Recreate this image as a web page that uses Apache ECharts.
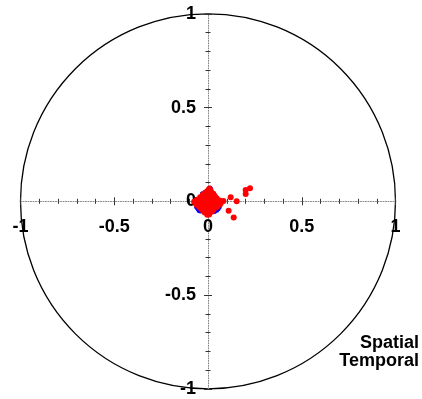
<!DOCTYPE html>
<html>
<head>
<meta charset="utf-8">
<script src="https://cdn.jsdelivr.net/npm/echarts@6/dist/echarts.min.js"></script>
<style>
  html, body { margin: 0; padding: 0; background: #fff; }
  #chart { width: 422px; height: 399px; }
</style>
</head>
<body>
<div id="chart"></div>
<script>
// Axis range and tick labels
const axisMin = -1;
const axisMax = 1;
const majorStep = 0.5;
const tickLabels = ['-1', '-0.5', '0', '0.5', '1'];

// Legend entries (drawn as plain text)
const legendNames = ['Spatial', 'Temporal'];

// Spatial points [x, y]
const spatialPoints = [
  [-0.052, -0.042], [-0.046, -0.050], [-0.060, -0.032], [-0.064, -0.014],
  [0.060, -0.030], [0.054, -0.040], [0.034, -0.054], [0.012, 0.070],
  [0.000, 0.000], [0.020, 0.020], [-0.020, -0.020], [-0.038, -0.052],
  [0.020, -0.020], [-0.020, 0.020], [0.046, -0.048], [-0.030, 0.040]
];

// Temporal points [x, y]
const temporalPoints = [
  [0.008, 0.068], [0.002, 0.060], [0.014, 0.058], [-0.004, 0.052],
  [-0.014, 0.047], [0.004, 0.046], [0.020, 0.044], [0.028, 0.040],
  [-0.028, 0.035], [-0.012, 0.033], [0.006, 0.035], [0.022, 0.031], [0.036, 0.028],
  [-0.042, 0.021], [-0.026, 0.019], [-0.010, 0.021], [0.010, 0.018], [0.028, 0.020], [0.046, 0.016],
  [-0.060, 0.008], [-0.044, 0.006], [-0.024, 0.008], [-0.006, 0.004], [0.012, 0.007],
  [0.030, 0.005], [0.048, 0.008], [0.062, 0.004],
  [-0.074, -0.002], [-0.058, -0.006], [-0.036, -0.004], [-0.016, -0.008], [0.004, -0.005],
  [0.022, -0.006], [0.040, -0.003], [0.058, -0.008], [0.072, -0.003], [0.082, 0.002],
  [-0.062, -0.018], [-0.046, -0.020], [-0.028, -0.017], [-0.010, -0.021], [0.008, -0.018],
  [0.024, -0.022], [0.040, -0.019], [0.056, -0.021], [0.066, -0.015],
  [-0.046, -0.033], [-0.030, -0.031], [-0.012, -0.035], [0.004, -0.032], [0.020, -0.036],
  [0.034, -0.032], [0.048, -0.030],
  [-0.032, -0.045], [-0.016, -0.048], [0.000, -0.046], [0.016, -0.049], [0.030, -0.045],
  [-0.018, -0.060], [-0.004, -0.062], [0.010, -0.059], [0.020, -0.056],
  [-0.004, -0.072], [0.006, -0.070],
  [0.121, 0.021], [0.153, 0.000], [0.201, 0.060], [0.224, 0.069],
  [0.201, 0.039], [0.110, -0.050], [0.137, -0.087]
];

const FONT = "'Liberation Sans', Arial, Helvetica, sans-serif";
const cx = 208, cy = 201.3, R = 187.5;

// Each direction gets two axes moved to the centre (via offset) so ticks cross the line
function valueAxis(dim, idx, position, showLabels) {
  return {
    type: 'value',
    min: axisMin,
    max: axisMax,
    interval: majorStep,
    position: position,
    offset: -R,
    axisLine: {
      show: idx === 0,
      onZero: false,
      lineStyle: { color: '#888', width: 1, type: [1, 1.5] }
    },
    axisTick: { show: true, inside: false, length: 4, lineStyle: { color: '#333', width: 1 } },
    minorTick: { show: true, splitNumber: 5, length: 2.5, lineStyle: { color: '#333', width: 1 } },
    splitLine: { show: false },
    minorSplitLine: { show: false },
    axisLabel: {
      show: showLabels,
      margin: dim === 'x' ? 17 : 12,
      fontFamily: FONT,
      fontWeight: 'bold',
      fontSize: 18,
      color: '#000',
      showMinLabel: true,
      showMaxLabel: true,
      hideOverlap: false,
      formatter: function (v) {
        return tickLabels[Math.round((v - axisMin) / majorStep)];
      }
    }
  };
}

const chart = echarts.init(document.getElementById('chart'), null, { renderer: 'canvas' });

chart.setOption({
  backgroundColor: '#fff',
  animation: false,
  polar: { center: [cx, cy], radius: R },
  angleAxis: {
    min: 0, max: 360, startAngle: 90,
    axisLine: { show: true, lineStyle: { color: '#000', width: 1.3 } },
    axisTick: { show: false },
    axisLabel: { show: false },
    splitLine: { show: false }
  },
  radiusAxis: {
    min: 0, max: 1,
    axisLine: { show: false }, axisTick: { show: false },
    axisLabel: { show: false }, splitLine: { show: false }
  },
  grid: {
    left: cx - R, top: cy - R, width: 2 * R, height: 2 * R,
    containLabel: false, outerBoundsMode: 'none'
  },
  xAxis: [valueAxis('x', 0, 'bottom', true), valueAxis('x', 1, 'top', false)],
  yAxis: [valueAxis('y', 0, 'left', true), valueAxis('y', 1, 'right', false)],
  graphic: [
    {
      type: 'text', right: 3, top: 334,
      style: { text: legendNames[0], font: 'bold 18px ' + FONT, fill: '#000', align: 'right' }
    },
    {
      type: 'text', right: 3, top: 352,
      style: { text: legendNames[1], font: 'bold 18px ' + FONT, fill: '#000', align: 'right' }
    }
  ],
  series: [
    {
      name: legendNames[0], type: 'scatter', xAxisIndex: 0, yAxisIndex: 0,
      symbol: 'circle', symbolSize: 5,
      itemStyle: { color: '#0000ff', opacity: 1 },
      data: spatialPoints
    },
    {
      name: legendNames[1], type: 'scatter', xAxisIndex: 0, yAxisIndex: 0,
      symbol: 'circle', symbolSize: 6,
      itemStyle: { color: '#ff0000', opacity: 1 },
      data: temporalPoints
    }
  ]
});
</script>
</body>
</html>
